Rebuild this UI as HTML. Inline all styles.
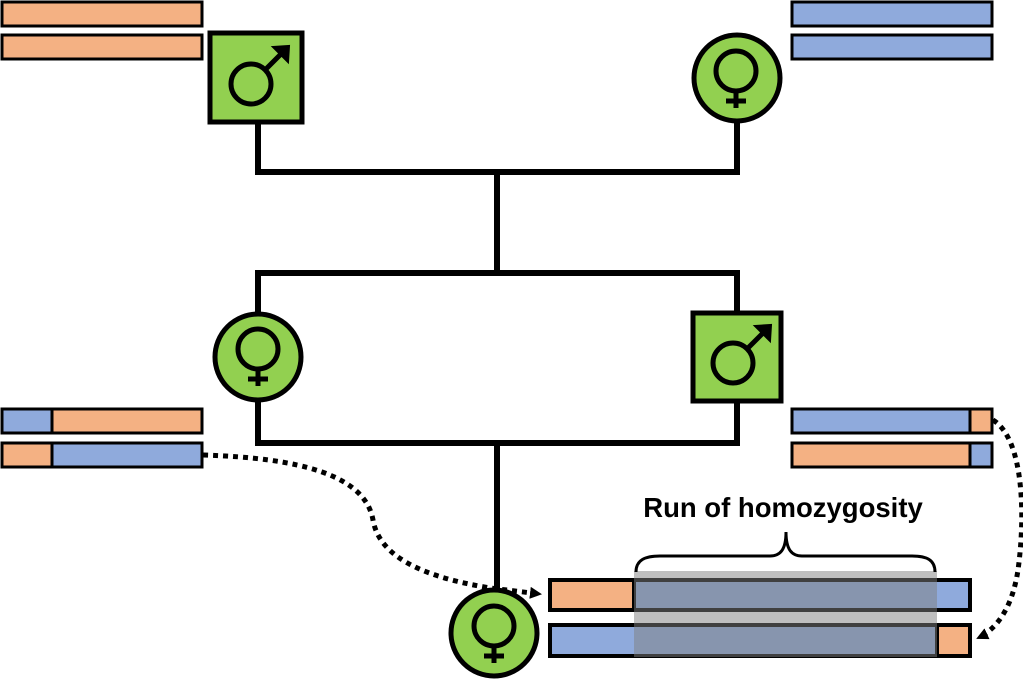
<!DOCTYPE html>
<html><head><meta charset="utf-8"><style>html,body{margin:0;padding:0;background:#fff;}svg{display:block}</style></head>
<body>
<svg width="1023" height="679" viewBox="0 0 1023 679" xmlns="http://www.w3.org/2000/svg">
<defs>
<marker id="ah" markerWidth="12" markerHeight="12" refX="10" refY="6" orient="auto" markerUnits="userSpaceOnUse" viewBox="0 0 12 12"><path d="M0,0 L12,6 L0,12 z" fill="#000"/></marker>
<g id="male" fill="none" stroke="#000" stroke-width="5">
<circle cx="0" cy="0" r="20"/>
<path d="M14,-14 L32,-32"/>
<path d="M22,-37 L38,-38 L37,-22 z" fill="#000" stroke-width="2"/>
</g>
<g id="female" fill="none" stroke="#000" stroke-width="5">
<circle cx="0" cy="-6" r="20"/>
<path d="M0,14 L0,31 M-10,24 L10,24"/>
</g>
</defs>
<g stroke="#000" stroke-width="6" fill="none">
<path d="M258,122 V172 H737 V122"/>
<path d="M497,172 V273"/>
<path d="M258,315 V273 H737 V312"/>
<path d="M258,398 V443 H737 V400"/>
<path d="M497,443 V592"/>
</g>
<g stroke="#000" stroke-width="3">
<rect x="2" y="2" width="200" height="24" fill="#f4b183"/>
<rect x="2" y="35" width="200" height="24" fill="#f4b183"/>
<rect x="792" y="2" width="200" height="24" fill="#8faadc"/>
<rect x="792" y="35" width="200" height="24" fill="#8faadc"/>
<rect x="2" y="409" width="50" height="24" fill="#8faadc"/>
<rect x="52" y="409" width="150" height="24" fill="#f4b183"/>
<rect x="2" y="443" width="50" height="24" fill="#f4b183"/>
<rect x="52" y="443" width="150" height="24" fill="#8faadc"/>
<rect x="792" y="409" width="178" height="24" fill="#8faadc"/>
<rect x="970" y="409" width="22" height="24" fill="#f4b183"/>
<rect x="792" y="443" width="178" height="24" fill="#f4b183"/>
<rect x="970" y="443" width="22" height="24" fill="#8faadc"/>
</g>
<g stroke="#000" stroke-width="4">
<rect x="550" y="580" width="84" height="30" fill="#f4b183"/>
<rect x="634" y="580" width="336" height="30" fill="#8faadc"/>
<rect x="550" y="625" width="387" height="31" fill="#8faadc"/>
<rect x="937" y="625" width="33" height="31" fill="#f4b183"/>
</g>
<rect x="634" y="571" width="303" height="86" fill="#808080" fill-opacity="0.5"/>
<rect x="210" y="33" width="92" height="89" fill="#92d050" stroke="#000" stroke-width="5"/>
<use href="#male" x="251" y="84"/>
<circle cx="737" cy="78" r="43" fill="#92d050" stroke="#000" stroke-width="5"/>
<use href="#female" x="736" y="77"/>
<circle cx="258" cy="357" r="43" fill="#92d050" stroke="#000" stroke-width="5"/>
<use href="#female" x="258" y="355"/>
<rect x="693" y="313" width="88" height="88" fill="#92d050" stroke="#000" stroke-width="5"/>
<use href="#male" x="733" y="363"/>
<circle cx="494" cy="633" r="43" fill="#92d050" stroke="#000" stroke-width="5"/>
<use href="#female" x="494" y="632"/>
<g fill="none" stroke="#000" stroke-width="5" stroke-dasharray="5 5">
<path d="M203,455 C300,458 365,475 373,520 C380,560 430,578 490,588 L540,594" marker-end="url(#ah)"/>
<path d="M993,420 C1025,440 1025,520 1018,570 C1012,610 995,630 978,638" marker-end="url(#ah)"/>
</g>
<path d="M636,572 C636,560 645,556 660,556 L770,556 C780,556 786,550 786,532 C786,550 792,556 802,556 L912,556 C927,556 935,560 935,572" fill="none" stroke="#000" stroke-width="3"/>
<text x="783" y="517" text-anchor="middle" font-family="Liberation Sans, sans-serif" font-weight="bold" font-size="27.5" fill="#000">Run of homozygosity</text>
</svg>
</body></html>
